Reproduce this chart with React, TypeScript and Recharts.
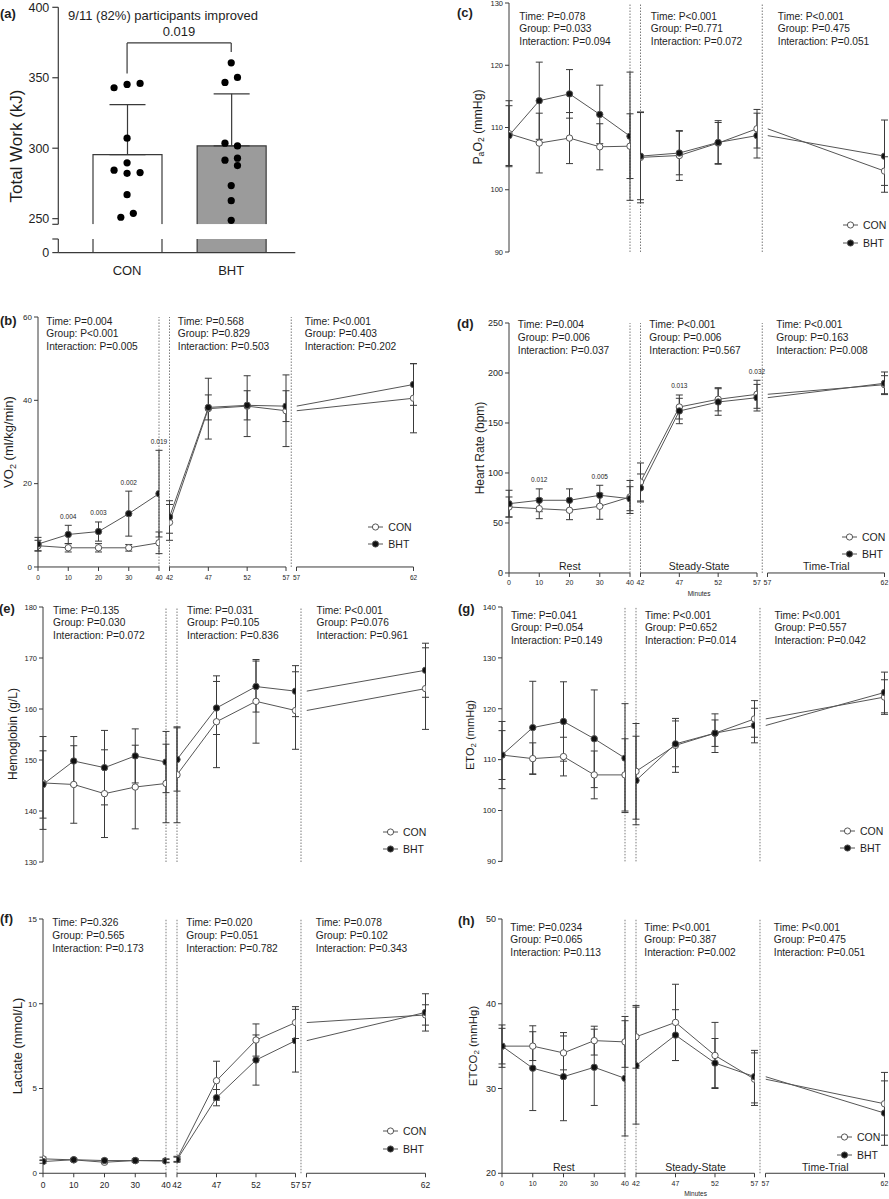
import React from "react";
import {
  ComposedChart,
  Line,
  Bar,
  Scatter,
  XAxis,
  YAxis,
  ErrorBar,
  ReferenceLine,
  LabelList,
  Legend,
} from "recharts";

const FONT = '"Liberation Sans", Arial, Helvetica, sans-serif';
const INK = "#1e1e1e";
const AXIS = "#3a3a3a";
const LINE = "#555";
const DASH = "#7a7a7a";
const GROUPS = ["CON", "BHT"];
const GROUP_FILL: Record<string, string> = { CON: "#fff", BHT: "#111" };

// ---------- panel (a): total work ----------
const WORK_MEAN = [295.5, 301.6];
const WORK_SD = [35.5, 37];
const WORK_TICKS = [250, 300, 350, 400];
const CON_WORK = [342.9, 345.3, 346, 307.1, 289.6, 284.4, 282.2, 282.7, 267, 251, 253.8];
const CON_JITTER = [-0.125, 0, 0.125, 0, 0, -0.125, 0, 0.125, 0, -0.06, 0.06];
const BHT_WORK = [360.6, 346.7, 350.2, 303.6, 301.6, 291.5, 292.9, 287.7, 273.5, 262.8, 248.8];
const BHT_JITTER = [0, -0.06, 0.06, -0.06, 0.06, -0.06, 0.06, 0.06, 0, 0, 0];
const BRACKET = { con: 353, top: 374.7, bht: 368.3 };
const BAR_FILL = ["#ffffff", "#9b9b9b"];

// ---------- time course panels ----------
const TIMES = [0, 10, 20, 30, 40, 42, 47, 52, 57, 62];
const SEGMENTS = [
  { id: "rest", idx: [0, 1, 2, 3, 4], ticks: [0, 10, 20, 30, 40], domain: [0, 40], phase: "Rest" },
  { id: "ss", idx: [5, 6, 7, 8], ticks: [42, 47, 52, 57], domain: [42, 57], phase: "Steady-State" },
  { id: "tt", idx: [8, 9], ticks: [57, 62], domain: [57, 62], phase: "Time-Trial" },
];

// (b) VO2
const VO2_CON = [5.1, 4.6, 4.6, 4.6, 5.8, 10.7, 38.0, 38.6, 37.5, 40.5];
const VO2_CON_SD = [1.3, 1.0, 1.0, 0.8, 2.6, 4.3, 7.3, 7.3, 8.6, 8.3];
const VO2_BHT = [5.5, 7.8, 8.5, 12.8, 17.6, 12.0, 38.3, 38.8, 38.6, 43.8];
const VO2_BHT_SD = [1.6, 2.2, 2.3, 5.4, 10.4, 3.9, 3.0, 3.5, 3.7, 5.0];
const VO2_SIG = [
  { t: 10, label: "0.004" },
  { t: 20, label: "0.003" },
  { t: 30, label: "0.002" },
  { t: 40, label: "0.019" },
];
const VO2_STATS = [
  ["Time: P=0.004", "Group: P<0.001", "Interaction: P=0.005"],
  ["Time: P=0.568", "Group: P=0.829", "Interaction: P=0.503"],
  ["Time: P<0.001", "Group: P=0.403", "Interaction: P=0.202"],
];

// (c) PaO2
const PAO2_CON = [109.0, 107.5, 108.3, 106.9, 107.0, 105.2, 105.5, 107.5, 109.8, 103.0];
const PAO2_CON_SD = [5.3, 4.8, 4.1, 3.7, 5.2, 7.3, 4.0, 3.3, 3.1, 2.3];
const PAO2_BHT = [108.7, 114.3, 115.4, 112.1, 108.6, 105.4, 105.9, 107.6, 108.7, 105.4];
const PAO2_BHT_SD = [4.8, 6.2, 3.9, 4.7, 10.3, 7.0, 3.5, 3.5, 3.6, 5.8];
const PAO2_STATS = [
  ["Time: P=0.078", "Group: P=0.033", "Interaction: P=0.094"],
  ["Time: P<0.001", "Group: P=0.771", "Interaction: P=0.072"],
  ["Time: P<0.001", "Group: P=0.475", "Interaction: P=0.051"],
];

// (d) heart rate
const HR_CON = [66.0, 64.3, 62.7, 66.7, 76.0, 91.0, 166.0, 173.7, 178.7, 188.3];
const HR_CON_SD = [10.0, 10.0, 9.4, 13.0, 16.5, 19.0, 12.0, 11.6, 14.0, 9.0];
const HR_BHT = [69.3, 72.7, 72.7, 77.7, 74.3, 85.0, 162.0, 171.0, 175.3, 189.7];
const HR_BHT_SD = [13.4, 11.4, 11.4, 10.0, 12.0, 14.0, 12.7, 13.3, 13.3, 11.3];
const HR_SIG = [
  { t: 10, label: "0.012" },
  { t: 30, label: "0.005" },
  { t: 47, label: "0.013" },
  { t: 57, label: "0.032" },
];
const HR_STATS = [
  ["Time: P=0.004", "Group: P=0.006", "Interaction: P=0.037"],
  ["Time: P<0.001", "Group: P=0.006", "Interaction: P=0.567"],
  ["Time: P<0.001", "Group: P=0.163", "Interaction: P=0.008"],
];

// (e) hemoglobin
const HB_CON = [145.5, 145.2, 143.4, 144.7, 145.4, 147.1, 157.5, 161.5, 159.7, 164.0];
const HB_CON_SD = [9.1, 7.6, 8.6, 8.2, 7.7, 9.4, 9.0, 8.2, 7.6, 8.0];
const HB_BHT = [145.2, 149.8, 148.5, 150.8, 149.6, 150.1, 160.2, 164.4, 163.5, 167.6];
const HB_BHT_SD = [6.6, 4.8, 7.3, 5.3, 6.0, 6.2, 5.2, 5.0, 5.0, 5.3];
const HB_STATS = [
  ["Time: P=0.135", "Group: P=0.030", "Interaction: P=0.072"],
  ["Time: P=0.031", "Group: P=0.105", "Interaction: P=0.836"],
  ["Time: P<0.001", "Group: P=0.076", "Interaction: P=0.961"],
];

// (g) ETO2
const ETO2_CON = [110.9, 110.2, 110.6, 107.0, 107.0, 107.7, 112.8, 115.2, 118.0, 122.3];
const ETO2_CON_SD = [4.8, 3.1, 3.8, 4.7, 7.1, 9.4, 5.3, 3.8, 3.6, 3.4];
const ETO2_BHT = [110.9, 116.3, 117.5, 114.1, 110.3, 105.9, 113.1, 115.2, 116.7, 123.2];
const ETO2_BHT_SD = [6.6, 9.1, 7.8, 9.6, 10.7, 8.7, 4.5, 2.6, 3.4, 4.0];
const ETO2_STATS = [
  ["Time: P=0.041", "Group: P=0.054", "Interaction: P=0.149"],
  ["Time: P<0.001", "Group: P=0.652", "Interaction: P=0.014"],
  ["Time: P<0.001", "Group: P=0.557", "Interaction: P=0.042"],
];

// (f) lactate
const LAC_CON = [0.85, 0.79, 0.65, 0.75, 0.75, 0.85, 5.46, 7.86, 8.89, 9.34];
const LAC_CON_SD = [0.1, 0.08, 0.08, 0.08, 0.1, 0.15, 1.15, 0.95, 0.94, 0.6];
const LAC_BHT = [0.69, 0.8, 0.75, 0.75, 0.72, 0.8, 4.46, 6.68, 7.82, 9.49];
const LAC_BHT_SD = [0.1, 0.08, 0.08, 0.08, 0.1, 0.15, 0.48, 1.48, 1.85, 1.1];
const LAC_STATS = [
  ["Time: P=0.326", "Group: P=0.565", "Interaction: P=0.173"],
  ["Time: P=0.020", "Group: P=0.051", "Interaction: P=0.782"],
  ["Time: P=0.078", "Group: P=0.102", "Interaction: P=0.343"],
];

// (h) ETCO2
const ETCO2_CON = [35.0, 35.0, 34.2, 35.65, 35.5, 36.1, 37.8, 33.9, 31.1, 28.2];
const ETCO2_CON_SD = [2.1, 1.7, 2.0, 1.7, 3.0, 3.7, 4.5, 3.9, 3.1, 3.7];
const ETCO2_BHT = [35.0, 32.4, 31.4, 32.5, 31.2, 32.7, 36.3, 33.0, 31.4, 27.1];
const ETCO2_BHT_SD = [2.5, 5.0, 5.2, 4.5, 6.8, 6.9, 3.0, 2.9, 3.1, 3.8];
const ETCO2_STATS = [
  ["Time: P=0.0234", "Group: P=0.065", "Interaction: P=0.113"],
  ["Time: P<0.001", "Group: P=0.387", "Interaction: P=0.002"],
  ["Time: P<0.001", "Group: P=0.475", "Interaction: P=0.051"],
];

// ---------- layout ----------
const SEG_UP = { rest: 121, gap1: 10.5, ss: 116.5, gap2: 10.5, tt: 117 };
const SEG_LOW = { rest: 123, gap1: 11, ss: 118.5, gap2: 11, tt: 119 };
const YW = 34;
const MT = 12;
const MR = 6;
const MB = 28;

const Sub = ({ children }: { children: React.ReactNode }) => (
  <span style={{ fontSize: "0.7em", verticalAlign: "-0.25em" }}>{children}</span>
);

function YTitle({ x, y, size, children }: any) {
  return (
    <div
      style={{
        position: "absolute",
        left: x,
        top: y,
        transform: "translate(-50%, -50%) rotate(-90deg)",
        fontSize: size,
        whiteSpace: "nowrap",
        lineHeight: 1,
      }}
    >
      {children}
    </div>
  );
}

function Tag({ x, y, text }: any) {
  return (
    <div style={{ position: "absolute", left: x, top: y, fontSize: 13, fontWeight: 700, lineHeight: 1 }}>
      {text}
    </div>
  );
}

function CenterText({ x, y, size, children }: any) {
  return (
    <div
      style={{
        position: "absolute",
        left: x,
        top: y,
        transform: "translate(-50%, -50%)",
        fontSize: size,
        whiteSpace: "nowrap",
        lineHeight: 1,
      }}
    >
      {children}
    </div>
  );
}

const makeDot = (fill: string) => (props: any) => {
  const key = `dot-${props.index}`;
  if (!props.payload || !props.payload.dot) return <g key={key} />;
  return <circle key={key} cx={props.cx} cy={props.cy} r={3.2} fill={fill} stroke={LINE} strokeWidth={1} />;
};
const conDot = makeDot("#fff");
const bhtDot = makeDot("#111");

const shiftedDash = (dx: number) => (props: any) => (
  <line
    x1={props.x1 + dx}
    y1={props.y1}
    x2={props.x2 + dx}
    y2={props.y2}
    stroke={DASH}
    strokeWidth={1}
    strokeDasharray="1.5 1.5"
  />
);

// legend: one row per group, taken from the payload of the visible series
const legendContent = (props: any) => {
  const names = new Set(
    (props.payload || []).filter((e: any) => e.type !== "none").map((e: any) => e.value)
  );
  const rows = GROUPS.filter((g) => names.has(g));
  return (
    <div style={{ fontFamily: FONT, fontSize: 10.5, color: INK }}>
      {rows.map((g) => (
        <div key={g} style={{ display: "flex", alignItems: "center", height: 17.5 }}>
          <svg width={15} height={10}>
            <line x1={0} y1={5} x2={15} y2={5} stroke={LINE} strokeWidth={1} />
            <circle cx={7.5} cy={5} r={3.1} fill={GROUP_FILL[g]} stroke={LINE} strokeWidth={1} />
          </svg>
          <span style={{ marginLeft: 5 }}>{g}</span>
        </div>
      ))}
    </div>
  );
};

function LinePanel(p: any) {
  const seg = p.seg;
  const total = seg.rest + seg.gap1 + seg.ss + seg.gap2 + seg.tt;
  const ssStart = seg.rest + seg.gap1;
  const ttStart = ssStart + seg.ss + seg.gap2;
  const starts = [0, ssStart, ttStart];
  const widths = [seg.rest, seg.ss, seg.tt];
  const plotH = p.bottom - p.top;
  const width = YW + total + MR;
  const height = MT + plotH + MB;
  const s = p.s;
  const showX = !!p.xFont;

  const rows = (g: any, k: number) =>
    g.idx.map((i: number, j: number) => {
      const carried = k === 2 && j === 0;
      return {
        t: TIMES[i],
        con: s.con[i],
        bht: s.bht[i],
        conSd: carried ? undefined : s.conSd[i],
        bhtSd: carried ? undefined : s.bhtSd[i],
        dot: !carried,
      };
    });

  const sigRows = (p.sig || []).map((g: any) => {
    const i = TIMES.indexOf(g.t);
    return {
      t: g.t,
      y: Math.max(s.con[i] + s.conSd[i], s.bht[i] + s.bhtSd[i]),
      label: g.label,
      seg: i < 5 ? "rest" : "ss",
    };
  });

  return (
    <>
      <div style={{ position: "absolute", left: p.axisX - YW, top: p.top - MT }}>
        <ComposedChart
          width={width}
          height={height}
          margin={{ top: MT, right: MR, bottom: MB, left: 0 }}
          style={{ fontFamily: FONT }}
        >
          {SEGMENTS.map((g, k) => (
            <XAxis
              key={g.id}
              xAxisId={g.id}
              type="number"
              dataKey="t"
              domain={g.domain}
              allowDataOverflow
              ticks={g.ticks}
              interval={0}
              padding={{ left: starts[k], right: total - starts[k] - widths[k] }}
              height={0.01}
              hide={!showX}
              axisLine={false}
              tickLine={{ stroke: AXIS }}
              tickSize={4}
              tickMargin={p.xMargin}
              tick={{ fontSize: p.xFont, fill: INK }}
            />
          ))}
          <YAxis
            type="number"
            domain={p.domain}
            allowDataOverflow
            ticks={p.ticks}
            interval={0}
            width={YW}
            tickSize={4}
            tickMargin={2}
            tick={{ fontSize: p.yFont, fill: INK }}
            axisLine={{ stroke: AXIS }}
            tickLine={{ stroke: AXIS }}
          />
          {showX &&
            SEGMENTS.map((g) => (
              <ReferenceLine
                key={"ax-" + g.id}
                xAxisId={g.id}
                segment={[
                  { x: g.domain[0], y: p.domain[0] },
                  { x: g.domain[1], y: p.domain[0] },
                ]}
                stroke={AXIS}
                strokeWidth={1}
              />
            ))}
          <ReferenceLine xAxisId="rest" x={40} stroke={DASH} strokeDasharray="1.5 1.5" />
          <ReferenceLine xAxisId="ss" x={42} stroke={DASH} strokeDasharray="1.5 1.5" />
          <ReferenceLine xAxisId="tt" x={57} shape={shiftedDash(-seg.gap2 / 2)} />
          {SEGMENTS.map((g, k) => {
            const data = rows(g, k);
            return [
              <Line
                key={g.id + "-con"}
                xAxisId={g.id}
                data={data}
                dataKey="con"
                name="CON"
                stroke={LINE}
                strokeWidth={1}
                dot={conDot}
                activeDot={false}
                legendType={k === 0 ? "circle" : "none"}
                isAnimationActive={false}
              >
                <ErrorBar dataKey="conSd" width={3.5} stroke={AXIS} strokeWidth={1} direction="y" />
              </Line>,
              <Line
                key={g.id + "-bht"}
                xAxisId={g.id}
                data={data}
                dataKey="bht"
                name="BHT"
                stroke={LINE}
                strokeWidth={1}
                dot={bhtDot}
                activeDot={false}
                legendType={k === 0 ? "circle" : "none"}
                isAnimationActive={false}
              >
                <ErrorBar dataKey="bhtSd" width={3.5} stroke={AXIS} strokeWidth={1} direction="y" />
              </Line>,
            ];
          })}
          {["rest", "ss"].map((id) => {
            const data = sigRows.filter((r: any) => r.seg === id);
            if (!data.length) return null;
            return (
              <Line
                key={"sig-" + id}
                xAxisId={id}
                data={data}
                dataKey="y"
                name="sig"
                stroke="none"
                dot={false}
                activeDot={false}
                legendType="none"
                isAnimationActive={false}
              >
                <LabelList dataKey="label" position="top" offset={6.5} fontSize={6.5} fill={INK} />
              </Line>
            );
          })}
          <Legend
            layout="vertical"
            align="center"
            verticalAlign="middle"
            content={legendContent}
            wrapperStyle={{ left: YW + p.legX, top: MT + plotH + p.legY - 8.75, width: "auto", height: "auto" }}
          />
        </ComposedChart>
      </div>
      <Tag x={p.tagX} y={p.tagY} text={p.tag} />
      <YTitle x={p.titleX} y={(p.top + p.bottom) / 2} size={p.titleSize}>
        {p.title}
      </YTitle>
      {p.stats.map((lines: string[], k: number) => (
        <div
          key={k}
          style={{
            position: "absolute",
            left: p.axisX + starts[k] + p.statsDx,
            top: p.top + p.statsDy - 2.6,
            fontSize: 10.2,
            lineHeight: "12.7px",
            whiteSpace: "nowrap",
          }}
        >
          {lines.map((l) => (
            <div key={l}>{l}</div>
          ))}
        </div>
      ))}
      {p.phases &&
        SEGMENTS.map((g, k) => (
          <CenterText key={g.id} x={p.axisX + starts[k] + widths[k] / 2} y={p.bottom - 6.7} size={10.5}>
            {g.phase}
          </CenterText>
        ))}
      {p.phases && (
        <CenterText x={p.axisX + ssStart + seg.ss / 2} y={p.bottom + 21} size={6.5}>
          Minutes
        </CenterText>
      )}
    </>
  );
}

const openBottomBar = (props: any) => {
  const { x, y, width, height, index } = props;
  return (
    <path
      d={`M${x},${y + height}V${y}H${x + width}V${y + height}`}
      fill={BAR_FILL[index]}
      stroke={AXIS}
      strokeWidth={1.2}
    />
  );
};
const openTopBar = (props: any) => {
  const { x, y, width, height, index } = props;
  return (
    <path d={`M${x},${y}V${y + height}H${x + width}V${y}`} fill={BAR_FILL[index]} stroke={AXIS} strokeWidth={1.2} />
  );
};
const workDot = (props: any) => <circle cx={props.cx} cy={props.cy} r={3.6} fill="#000" />;

function WorkPanel() {
  const bars = GROUPS.map((name, i) => ({ name, mean: WORK_MEAN[i], err: [0, WORK_SD[i]] }));
  const dots = [
    ...CON_WORK.map((y, i) => ({ x: 0 + CON_JITTER[i], y })),
    ...BHT_WORK.map((y, i) => ({ x: 1 + BHT_JITTER[i], y })),
  ];
  const pad = { left: 16.7, right: 12 };
  const axisX = 58.3;
  const plotW = 237;
  const upperDomain = [246, 400];
  const lowerDomain = [0, 10];
  const tickStyle = { fontSize: 12.5, fill: INK };
  return (
    <>
      <div style={{ position: "absolute", left: 0, top: 0 }}>
        <ComposedChart
          width={axisX + plotW + 4}
          height={225}
          data={bars}
          margin={{ top: 7.3, right: 4, bottom: 0.7, left: 0 }}
          style={{ fontFamily: FONT }}
        >
          <XAxis xAxisId="cat" dataKey="name" type="category" padding={pad} hide />
          <XAxis xAxisId="jit" dataKey="x" type="number" domain={[-0.5, 1.5]} padding={pad} hide />
          <YAxis
            type="number"
            domain={upperDomain}
            allowDataOverflow
            ticks={[upperDomain[0], ...WORK_TICKS]}
            interval={0}
            tickFormatter={(v: number) => (v === upperDomain[0] ? "" : String(v))}
            width={axisX}
            tickSize={6}
            tickMargin={3}
            tick={tickStyle}
            axisLine={{ stroke: AXIS, strokeWidth: 1.2 }}
            tickLine={{ stroke: AXIS, strokeWidth: 1.2 }}
          />
          <Bar xAxisId="cat" dataKey="mean" barSize={69} shape={openBottomBar} isAnimationActive={false}>
            <ErrorBar dataKey="err" width={18} stroke={AXIS} strokeWidth={1.2} direction="y" />
          </Bar>
          <Scatter xAxisId="jit" data={dots} dataKey="y" shape={workDot} isAnimationActive={false} />
          <ReferenceLine
            xAxisId="cat"
            segment={[
              { x: "CON", y: BRACKET.con },
              { x: "CON", y: BRACKET.top },
            ]}
            stroke={AXIS}
            strokeWidth={1.2}
          />
          <ReferenceLine
            xAxisId="cat"
            segment={[
              { x: "CON", y: BRACKET.top },
              { x: "BHT", y: BRACKET.top },
            ]}
            stroke={AXIS}
            strokeWidth={1.2}
          />
          <ReferenceLine
            xAxisId="cat"
            segment={[
              { x: "BHT", y: BRACKET.top },
              { x: "BHT", y: BRACKET.bht },
            ]}
            stroke={AXIS}
            strokeWidth={1.2}
          />
        </ComposedChart>
      </div>
      <div style={{ position: "absolute", left: 0, top: 233.7 }}>
        <ComposedChart
          width={axisX + plotW + 4}
          height={48.6}
          data={bars}
          margin={{ top: 5, right: 4, bottom: 0, left: 0 }}
          style={{ fontFamily: FONT }}
        >
          <XAxis
            dataKey="name"
            type="category"
            padding={pad}
            height={30}
            axisLine={{ stroke: AXIS, strokeWidth: 1.2 }}
            tickLine={false}
            tickSize={6}
            tickMargin={7}
            tick={{ fontSize: 13, fill: INK }}
          />
          <YAxis
            type="number"
            domain={lowerDomain}
            allowDataOverflow
            ticks={lowerDomain}
            interval={0}
            tickFormatter={(v: number) => (v === lowerDomain[0] ? String(v) : "")}
            width={axisX}
            tickSize={6}
            tickMargin={3}
            tick={tickStyle}
            axisLine={{ stroke: AXIS, strokeWidth: 1.2 }}
            tickLine={{ stroke: AXIS, strokeWidth: 1.2 }}
          />
          <Bar dataKey="mean" barSize={69} shape={openTopBar} isAnimationActive={false} />
        </ComposedChart>
      </div>
      <Tag x={0} y={7} text="(a)" />
      <YTitle x={16} y={146} size={17}>
        Total Work (kJ)
      </YTitle>
      <CenterText x={163} y={15} size={13}>
        9/11 (82%) participants improved
      </CenterText>
      <CenterText x={179} y={31} size={13}>
        0.019
      </CenterText>
    </>
  );
}

const PANELS = [
  {
    tag: "(b)", tagX: 0, tagY: 313.5, axisX: 38.3, top: 317.3, bottom: 567.3, seg: SEG_UP,
    domain: [0, 60], ticks: [0, 20, 40, 60], yFont: 8, xFont: 6.5, xMargin: 4.7,
    s: { con: VO2_CON, conSd: VO2_CON_SD, bht: VO2_BHT, bhtSd: VO2_BHT_SD }, sig: VO2_SIG,
    stats: VO2_STATS, statsDx: 8, statsDy: 1, legX: 330, legY: -40.6,
    title: (<>VO<Sub>2</Sub> (ml/kg/min)</>), titleX: 10, titleSize: 13,
  },
  {
    tag: "(c)", tagX: 457, tagY: 5.5, axisX: 509.3, top: 2.7, bottom: 251.7, seg: SEG_UP,
    domain: [90, 130], ticks: [90, 100, 110, 120, 130], yFont: 7.5,
    s: { con: PAO2_CON, conSd: PAO2_CON_SD, bht: PAO2_BHT, bhtSd: PAO2_BHT_SD },
    stats: PAO2_STATS, statsDx: 10, statsDy: 10.6, legX: 333.7, legY: -26.7,
    title: (<>P<Sub>a</Sub>O<Sub>2</Sub> (mmHg)</>), titleX: 479, titleSize: 12.3,
  },
  {
    tag: "(d)", tagX: 457, tagY: 316.5, axisX: 509.3, top: 322.7, bottom: 572.7, seg: SEG_UP,
    domain: [0, 250], ticks: [0, 50, 100, 150, 200, 250], yFont: 9, xFont: 7, xMargin: 3,
    s: { con: HR_CON, conSd: HR_CON_SD, bht: HR_BHT, bhtSd: HR_BHT_SD }, sig: HR_SIG,
    stats: HR_STATS, statsDx: 8.5, statsDy: -1, legX: 332.7, legY: -35.7,
    title: "Heart Rate (bpm)", titleX: 480, titleSize: 12, phases: true,
  },
  {
    tag: "(e)", tagX: -1, tagY: 601.5, axisX: 43.3, top: 606.7, bottom: 861.7, seg: SEG_LOW,
    domain: [130, 180], ticks: [130, 140, 150, 160, 170, 180], yFont: 7.5,
    s: { con: HB_CON, conSd: HB_CON_SD, bht: HB_BHT, bhtSd: HB_BHT_SD },
    stats: HB_STATS, statsDx: 9.8, statsDy: 0.6, legX: 339.7, legY: -29.7,
    title: "Hemoglobin (g/L)", titleX: 13, titleSize: 12,
  },
  {
    tag: "(g)", tagX: 458, tagY: 601.5, axisX: 502.3, top: 607.3, bottom: 861.7, seg: SEG_LOW,
    domain: [90, 140], ticks: [90, 100, 110, 120, 130, 140], yFont: 8,
    s: { con: ETO2_CON, conSd: ETO2_CON_SD, bht: ETO2_BHT, bhtSd: ETO2_BHT_SD },
    stats: ETO2_STATS, statsDx: 8.6, statsDy: 5, legX: 337.7, legY: -30.7,
    title: (<>ETO<Sub>2</Sub> (mmHg)</>), titleX: 471, titleSize: 11.1,
  },
  {
    tag: "(f)", tagX: 0, tagY: 911.5, axisX: 43.3, top: 919, bottom: 1173.3, seg: SEG_LOW,
    domain: [0, 15], ticks: [0, 5, 10, 15], yFont: 8, xFont: 8.5, xMargin: 5,
    s: { con: LAC_CON, conSd: LAC_CON_SD, bht: LAC_BHT, bhtSd: LAC_BHT_SD },
    stats: LAC_STATS, statsDx: 9, statsDy: 1, legX: 339.7, legY: -42.3,
    title: "Lactate (mmol/L)", titleX: 17.5, titleSize: 12.9,
  },
  {
    tag: "(h)", tagX: 458, tagY: 913.5, axisX: 502.3, top: 919, bottom: 1173.3, seg: SEG_LOW,
    domain: [20, 50], ticks: [20, 30, 40, 50], yFont: 9, xFont: 7, xMargin: 3.8,
    s: { con: ETCO2_CON, conSd: ETCO2_CON_SD, bht: ETCO2_BHT, bhtSd: ETCO2_BHT_SD },
    stats: ETCO2_STATS, statsDx: 8, statsDy: 5.3, legX: 334.7, legY: -36.3,
    title: (<>ETCO<Sub>2</Sub> (mmHg)</>), titleX: 474, titleSize: 11.4, phases: true,
  },
];

export default function App() {
  return (
    <div
      style={{
        position: "absolute",
        left: 0,
        top: 0,
        width: 889,
        height: 1199,
        overflow: "hidden",
        background: "#fff",
        fontFamily: FONT,
        color: INK,
      }}
    >
      <WorkPanel />
      {PANELS.map((p) => (
        <LinePanel key={p.tag} {...p} />
      ))}
    </div>
  );
}
